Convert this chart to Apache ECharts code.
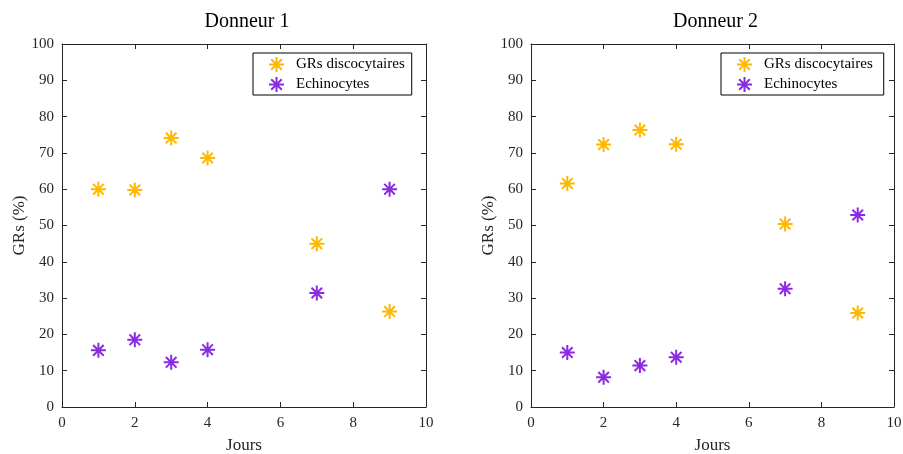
<!DOCTYPE html>
<html><head><meta charset="utf-8">
<script src="https://cdn.jsdelivr.net/npm/echarts@6/dist/echarts.min.js"></script>
<style>html,body{margin:0;padding:0;background:#fff}#c{width:903px;height:454px}</style>
</head><body><div id="c"></div>
<script>
const jours = [1, 2, 3, 4, 7, 9];
const donneur1_disco = [60.0, 59.8, 74.1, 68.6, 45.0, 26.3];
const donneur1_echino = [15.6, 18.5, 12.3, 15.8, 31.4, 60.0];
const donneur2_disco = [61.6, 72.3, 76.3, 72.4, 50.4, 25.9];
const donneur2_echino = [15.0, 8.2, 11.4, 13.7, 32.6, 52.9];
const titles = ['Donneur 1', 'Donneur 2'];
const seriesNames = ['GRs discocytaires', 'Echinocytes'];
const colors = ['#FFB800', '#8A2BE2'];

const FONT = '"Liberation Serif", "Times New Roman", serif';
const star = 'path://M10 0 L10 20 M0 10 L20 10 M2.93 2.93 L17.07 17.07 M17.07 2.93 L2.93 17.07';
const grids = [
  {left: 62, top: 44, width: 364, height: 363, outerBoundsMode: 'none', containLabel: false},
  {left: 531, top: 44, width: 363, height: 363, outerBoundsMode: 'none', containLabel: false}
];
const chart = echarts.init(document.getElementById('c'));
const axisLine = {show: true, onZero: false, lineStyle: {color: '#262626', width: 1}};
const tick = {show: true, inside: true, length: 5, lineStyle: {color: '#262626'}};
const lbl = {color: '#262626', fontFamily: FONT, fontSize: 15};
const xAxis = [], yAxis = [], series = [], legend = [], title = [];
const data = [[donneur1_disco, donneur1_echino], [donneur2_disco, donneur2_echino]];
grids.forEach((g, i) => {
  title.push({text: titles[i], left: g.left + g.width / 2 - 2, top: 7, textAlign: 'center',
    textStyle: {fontFamily: FONT, fontSize: 20, fontWeight: 'normal', color: '#000'}});
  xAxis.push({type: 'value', gridIndex: i, min: 0, max: 10, interval: 2, position: 'bottom',
    name: 'Jours', nameLocation: 'middle', nameGap: 30,
    nameTextStyle: {fontFamily: FONT, fontSize: 17, color: '#262626'},
    axisLine, axisTick: tick, axisLabel: {...lbl, margin: 9}, splitLine: {show: false}});
  xAxis.push({type: 'value', gridIndex: i, min: 0, max: 10, interval: 2, position: 'top',
    axisLine, axisTick: tick, axisLabel: {show: false}, splitLine: {show: false}});
  yAxis.push({type: 'value', gridIndex: i, min: 0, max: 100, interval: 10, position: 'left',
    name: 'GRs (%)', nameLocation: 'middle', nameGap: 34,
    nameTextStyle: {fontFamily: FONT, fontSize: 17, color: '#262626'},
    axisLine, axisTick: tick, axisLabel: {...lbl, margin: 8}, splitLine: {show: false}});
  yAxis.push({type: 'value', gridIndex: i, min: 0, max: 100, interval: 10, position: 'right',
    axisLine, axisTick: tick, axisLabel: {show: false}, splitLine: {show: false}});
  data[i].forEach((vals, k) => {
    series.push({type: 'scatter', name: seriesNames[k], xAxisIndex: i * 2, yAxisIndex: i * 2,
      symbol: star, symbolSize: 15,
      itemStyle: {color: 'rgba(0,0,0,0)', borderColor: colors[k], borderWidth: 2, opacity: 1},
      data: jours.map((d, j) => [d, vals[j]])});
  });
  legend.push({orient: 'vertical', left: i === 0 ? 253 : 721, top: 53,
    data: seriesNames.map((n, k) => ({name: n, icon: star, itemStyle: {color: 'rgba(0,0,0,0)', borderColor: colors[k], borderWidth: 2}})),
    itemWidth: 15, itemHeight: 15, itemGap: 3,
    padding: [3, i === 0 ? 7 : 11, 2, 15],
    borderColor: '#000', borderWidth: 1, backgroundColor: '#fff',
    selectedMode: false,
    textStyle: {fontFamily: FONT, fontSize: 15, lineHeight: 15, color: '#000', padding: [0, 0, 0, 7]}});
});
chart.setOption({animation: false, color: colors, title, grid: grids, xAxis, yAxis, series, legend});
</script></body></html>
